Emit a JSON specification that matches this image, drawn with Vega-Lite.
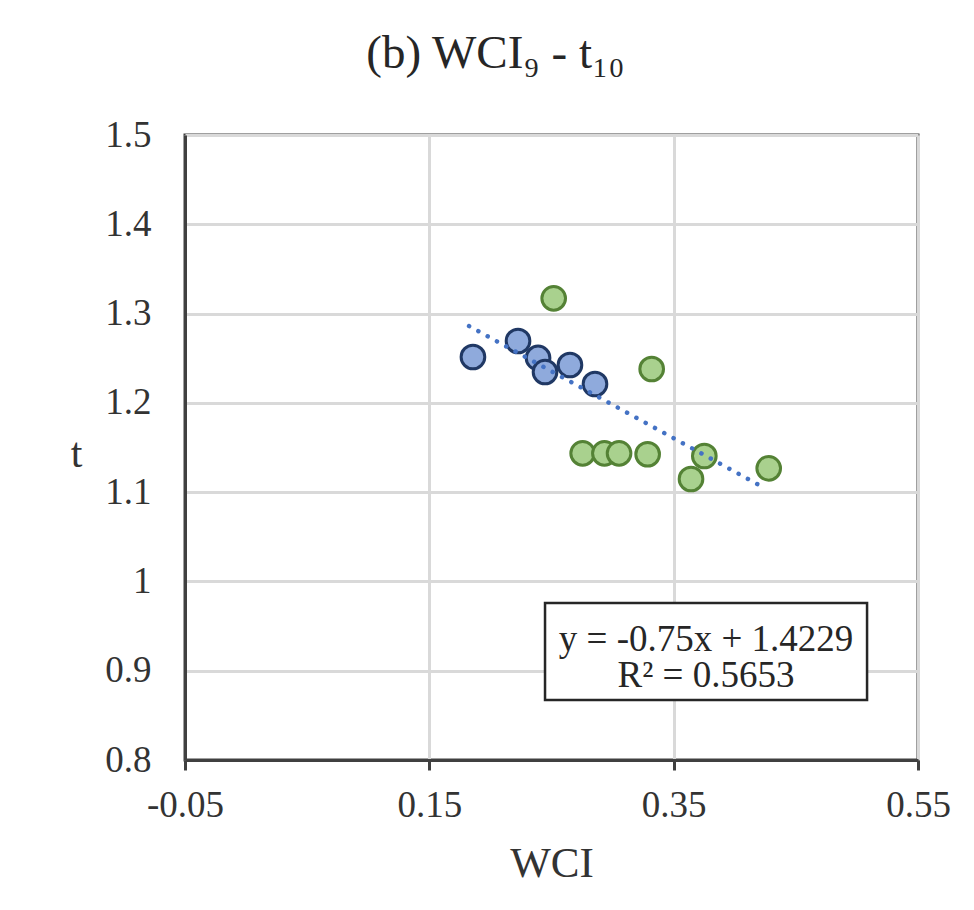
{
  "$schema": "https://vega.github.io/schema/vega-lite/v6.json",
  "width": 733,
  "height": 625,
  "autosize": {"type": "none"},
  "padding": {"left": 185, "top": 135, "right": 56, "bottom": 150},
  "background": "white",
  "config": {
    "font": "Liberation Serif",
    "view": {"stroke": "#404040", "strokeWidth": 3}
  },
  "title": {
    "text": "(b) WCI₉ - t₁₀",
    "font": "Liberation Serif",
    "fontSize": 47,
    "fontWeight": "normal",
    "color": "#262626",
    "anchor": "middle",
    "frame": "group",
    "dx": -56,
    "offset": 1,
    "baseline": "alphabetic"
  },
  "datasets": {
    "pts": [
      {"s": "A", "x": 0.1857, "y": 1.2514},
      {"s": "A", "x": 0.2226, "y": 1.2693},
      {"s": "A", "x": 0.2390, "y": 1.2503},
      {"s": "A", "x": 0.2447, "y": 1.2346},
      {"s": "A", "x": 0.2651, "y": 1.2424},
      {"s": "A", "x": 0.2856, "y": 1.2211},
      {"s": "B", "x": 0.2518, "y": 1.3171},
      {"s": "B", "x": 0.3320, "y": 1.2379},
      {"s": "B", "x": 0.2755, "y": 1.1435},
      {"s": "B", "x": 0.2933, "y": 1.1435},
      {"s": "B", "x": 0.3053, "y": 1.1435},
      {"s": "B", "x": 0.3287, "y": 1.1424},
      {"s": "B", "x": 0.3751, "y": 1.1405},
      {"s": "B", "x": 0.3642, "y": 1.1147},
      {"s": "B", "x": 0.4278, "y": 1.1267}
    ],
    "trend": [
      {"x": 0.1825, "y": 1.2860},
      {"x": 0.4201, "y": 1.1078}
    ]
  },
  "layer": [
    {
      "data": {"name": "pts"},
      "mark": {"type": "point", "shape": "circle", "filled": true, "size": 560, "strokeWidth": 3, "opacity": 1},
      "encoding": {
        "x": {
          "field": "x", "type": "quantitative",
          "scale": {"domain": [-0.05, 0.55], "nice": false, "zero": false},
          "axis": {
            "values": [-0.05, 0.15, 0.35, 0.55],
            "labelExpr": "replace(format(datum.value, '.2f'), '−', '-')",
            "labelFlush": false,
            "labelOverlap": false,
            "title": "WCI",
            "titleFont": "Liberation Serif",
            "titleFontSize": 43,
            "titleFontWeight": "normal",
            "titleColor": "#333333",
            "titleBaseline": "alphabetic",
            "titleY": 116,
            "labelFont": "Liberation Serif",
            "labelFontSize": 37,
            "labelColor": "#333333",
            "labelPadding": 17,
            "tickSize": 10,
            "tickWidth": 3,
            "tickColor": "#404040",
            "domainColor": "#404040",
            "domainWidth": 3,
            "gridColor": "#d9d9d9",
            "gridWidth": 3
          }
        },
        "y": {
          "field": "y", "type": "quantitative",
          "scale": {"domain": [0.8, 1.5], "nice": false, "zero": false},
          "axis": {
            "values": [0.8, 0.9, 1.0, 1.1, 1.2, 1.3, 1.4, 1.5],
            "format": ".1~f",
            "labelFlush": false,
            "labelOverlap": false,
            "title": "t",
            "titleFont": "Liberation Serif",
            "titleFontSize": 42,
            "titleFontWeight": "normal",
            "titleColor": "#333333",
            "titleAngle": 0,
            "titleAlign": "center",
            "titleBaseline": "middle",
            "titleX": -109,
            "titleY": 318,
            "labelFont": "Liberation Serif",
            "labelFontSize": 37,
            "labelColor": "#333333",
            "labelPadding": 34,
            "ticks": false,
            "tickSize": 0,
            "domainColor": "#404040",
            "domainWidth": 3,
            "gridColor": "#d9d9d9",
            "gridWidth": 3
          }
        },
        "fill": {
          "field": "s", "type": "nominal",
          "scale": {"domain": ["A", "B"], "range": ["#8faadc", "#a9d18e"]},
          "legend": null
        },
        "stroke": {
          "field": "s", "type": "nominal",
          "scale": {"domain": ["A", "B"], "range": ["#203864", "#548235"]},
          "legend": null
        }
      }
    },
    {
      "data": {"name": "trend"},
      "mark": {"type": "line", "color": "#4472c4", "strokeWidth": 4.5, "strokeDash": [0.1, 10.5], "strokeCap": "round"},
      "encoding": {
        "x": {"field": "x", "type": "quantitative"},
        "y": {"field": "y", "type": "quantitative"}
      }
    },
    {
      "data": {"values": [{}]},
      "mark": {"type": "rect", "fill": "white", "stroke": "#262626", "strokeWidth": 2.5},
      "encoding": {
        "x": {"datum": 0.2447, "type": "quantitative"},
        "x2": {"datum": 0.5083},
        "y": {"datum": 0.9759, "type": "quantitative"},
        "y2": {"datum": 0.8672}
      }
    },
    {
      "data": {"values": [{}]},
      "mark": {"type": "text", "text": "y = -0.75x + 1.4229", "font": "Liberation Serif", "fontSize": 37, "color": "#262626", "align": "center", "baseline": "alphabetic"},
      "encoding": {
        "x": {"datum": 0.3765, "type": "quantitative"},
        "y": {"datum": 0.9221, "type": "quantitative"}
      }
    },
    {
      "data": {"values": [{}]},
      "mark": {"type": "text", "text": "R² = 0.5653", "font": "Liberation Serif", "fontSize": 37, "color": "#262626", "align": "center", "baseline": "alphabetic"},
      "encoding": {
        "x": {"datum": 0.3765, "type": "quantitative"},
        "y": {"datum": 0.8818, "type": "quantitative"}
      }
    }
  ]
}
